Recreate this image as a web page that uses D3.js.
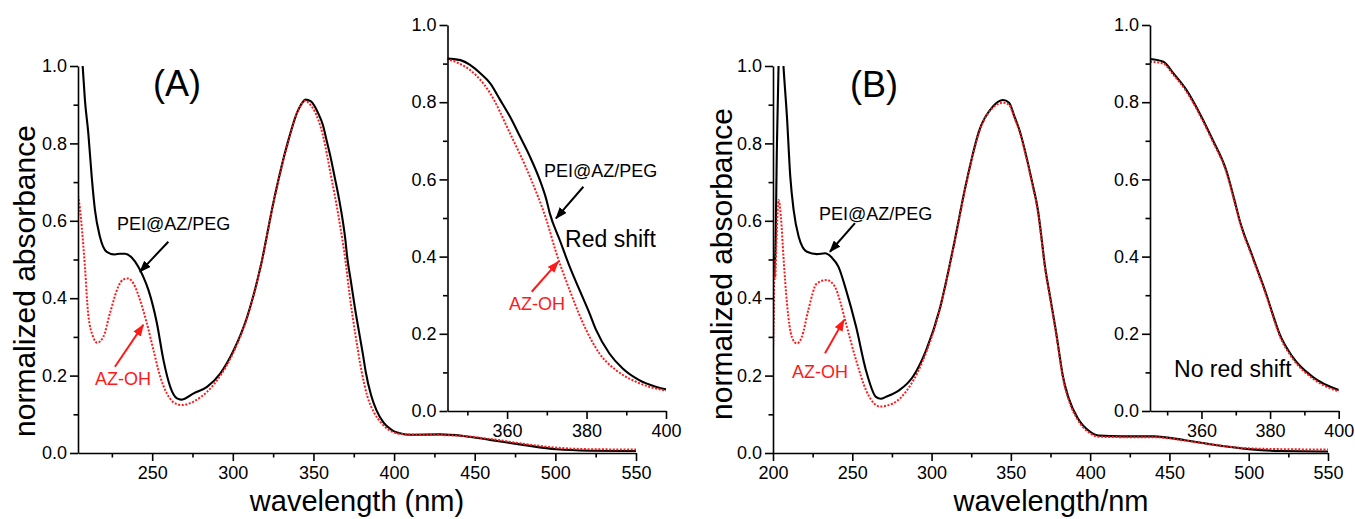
<!DOCTYPE html>
<html>
<head>
<meta charset="utf-8">
<script src="https://cdn.jsdelivr.net/npm/d3@7.9.0/dist/d3.min.js"></script>
<style>
  body { margin: 0; background: #fff; }
  svg { display: block; }
  text { font-family: "Liberation Sans", Arial, sans-serif; fill: #000; }
</style>
</head>
<body>
<div id="chart"></div>
<script>
// spectra: [wavelength nm, normalized absorbance]
let pegA = [
  [204, 1.2], [205, 1.14], [206, 1.06], [206.9, 1.0], [208.3, 0.912], [210.4, 0.826],
  [212.5, 0.714], [214.5, 0.628], [217.6, 0.559], [221.8, 0.52], [226.9, 0.513],
  [230, 0.515], [233.1, 0.515], [237.3, 0.505], [241.4, 0.481], [244.5, 0.455],
  [247.7, 0.421], [252.9, 0.336], [257, 0.24], [261.2, 0.171], [265.4, 0.141],
  [268, 0.138], [270.5, 0.141], [275.7, 0.154], [284, 0.171], [292.3, 0.206],
  [300.6, 0.266], [308.9, 0.352], [317.2, 0.481], [325.5, 0.654], [333.9, 0.8],
  [340.1, 0.882], [343, 0.905], [345.1, 0.913], [348.25, 0.909], [350.75, 0.896],
  [353.25, 0.875], [355.75, 0.849], [358.25, 0.806], [360.75, 0.762], [363.25, 0.711],
  [365.75, 0.659], [368.25, 0.598], [369.9, 0.547], [370.75, 0.512], [373.25, 0.443],
  [375.75, 0.374], [378.25, 0.313], [380.75, 0.253], [382.4, 0.21], [385.75, 0.149],
  [389.1, 0.11], [393.25, 0.08], [397.4, 0.063], [400, 0.056], [403.6, 0.051],
  [409.8, 0.047], [428.4, 0.048], [442.9, 0.044], [459.4, 0.034], [480, 0.021],
  [500.8, 0.0095], [521.4, 0.006], [550, 0.005]
];
let azohA = [
  [204, 0.665], [204.8, 0.645], [206.3, 0.585], [208.3, 0.481], [210.3, 0.36],
  [213.4, 0.3], [215.9, 0.285], [219.7, 0.3], [223.8, 0.361], [229, 0.43],
  [232, 0.448], [235.2, 0.451], [238.4, 0.438], [242.5, 0.395], [246.7, 0.335],
  [250.8, 0.266], [255, 0.197], [259.1, 0.154], [264.3, 0.128], [268.5, 0.124],
  [275.7, 0.133], [284, 0.158], [292.3, 0.2], [300.6, 0.262], [308.9, 0.35],
  [317.2, 0.48], [325.5, 0.652], [333.9, 0.798], [340.1, 0.882], [345, 0.91],
  [348, 0.9], [350.75, 0.883], [355.75, 0.823], [360.75, 0.719], [365.75, 0.607],
  [369.9, 0.495], [372.4, 0.409], [375.75, 0.313], [379.9, 0.21], [383.25, 0.149],
  [387.4, 0.106], [392.4, 0.076], [400, 0.053], [405, 0.049], [420, 0.047],
  [440, 0.045], [460, 0.036], [480, 0.024], [500, 0.014], [520, 0.01], [550, 0.009]
];
let pegB = [
  [200, 0.45], [201.4, 0.507], [202.5, 0.8], [203.5, 1.0], [205, 1.12], [206.6, 1.0],
  [208.8, 0.869], [210.9, 0.714], [213, 0.628], [216.2, 0.559], [221.4, 0.52],
  [227.7, 0.514], [232.9, 0.516], [237.1, 0.505], [241.3, 0.481], [246.1, 0.421],
  [252.4, 0.326], [258.6, 0.214], [264.9, 0.145], [268, 0.14], [271.2, 0.145],
  [279.9, 0.163], [288.2, 0.197], [296.6, 0.266], [305, 0.37], [313.4, 0.525],
  [321.8, 0.697], [330.2, 0.835], [338.6, 0.895], [345, 0.912], [348.9, 0.905],
  [351.8, 0.875], [355.6, 0.832], [359.5, 0.771], [363.3, 0.702], [367.2, 0.624],
  [369.6, 0.547], [371.1, 0.495], [374.9, 0.4], [378.8, 0.305], [380.7, 0.253],
  [382.7, 0.201], [386.5, 0.141], [392.3, 0.089], [399.6, 0.056], [405.7, 0.045],
  [420, 0.043], [440, 0.043], [460, 0.033], [480, 0.02], [500, 0.01], [520, 0.005],
  [550, 0.004]
];
let azohB = [
  [200, 0.27], [200.5, 0.35], [201, 0.5], [201.4, 0.45], [202, 0.52], [203.5, 0.654],
  [205, 0.61], [206.6, 0.507], [208.8, 0.387], [211.9, 0.3], [215, 0.283],
  [218.2, 0.3], [222.3, 0.37], [227.6, 0.438], [233.8, 0.447], [239, 0.43],
  [242.1, 0.395], [246, 0.335], [252.4, 0.24], [258.6, 0.163], [264.9, 0.124],
  [267.2, 0.12], [275.6, 0.128], [286, 0.171], [296.6, 0.26], [305, 0.368],
  [313.4, 0.522], [321.8, 0.694], [330.2, 0.832], [338.6, 0.892], [345, 0.905],
  [348.9, 0.9], [351.8, 0.871], [355.6, 0.828], [359.5, 0.767], [363.3, 0.698],
  [367.2, 0.62], [369.6, 0.543], [371.1, 0.491], [374.9, 0.396], [378.8, 0.301],
  [380.7, 0.249], [382.7, 0.197], [386.5, 0.137], [392.3, 0.085], [399.6, 0.052],
  [405.7, 0.042], [420, 0.041], [440, 0.041], [460, 0.032], [480, 0.02],
  [500, 0.012], [520, 0.01], [550, 0.009]
];

// tick values
let yMajor = [0, 0.2, 0.4, 0.6, 0.8, 1.0];
let yMinor = [0.1, 0.3, 0.5, 0.7, 0.9];
let xMajorA = [250, 300, 350, 400, 450, 500, 550];
let xMajorB = [200, 250, 300, 350, 400, 450, 500, 550];
let xMinorMain = [225, 275, 325, 375, 425, 475, 525];
let xMajorInset = [360, 380, 400];
let xMinorInset = [350, 370, 390];

let svg = d3.select("#chart")
    .append("svg")
    .attr("width", 1355)
    .attr("height", 519);

const RED = "#ff1a1a";

let defs = svg.append("defs");
["black", "red"].forEach(c => {
    defs.append("marker")
        .attr("id", "arrow-" + c)
        .attr("markerUnits", "userSpaceOnUse")
        .attr("markerWidth", 12).attr("markerHeight", 9)
        .attr("refX", 11).attr("refY", 4.5)
        .attr("orient", "auto")
        .append("path")
        .attr("d", "M0,0 L12,4.5 L0,9 z")
        .attr("fill", c === "red" ? RED : "#000");
});

// one set of axes + both curves
function drawPlot(p) {
    let x = d3.scaleLinear().domain(p.xDomain).range([p.left, p.right]);
    let y = d3.scaleLinear().domain([0, 1]).range([p.bottom, p.top]);
    let g = svg.append("g");

    defs.append("clipPath").attr("id", "clip-" + p.id)
        .append("rect")
        .attr("x", p.left).attr("y", p.top)
        .attr("width", p.right - p.left).attr("height", p.bottom - p.top);

    let line = d3.line()
        .defined(d => d[0] >= p.xDomain[0] - 6 && d[0] <= p.xDomain[1] + 6)
        .x(d => x(d[0])).y(d => y(d[1]))
        .curve(d3.curveMonotoneX);

    let curves = g.append("g").attr("clip-path", "url(#clip-" + p.id + ")");
    curves.append("path")
        .attr("d", line(p.peg.filter(line.defined())))
        .attr("fill", "none").attr("stroke", "#000").attr("stroke-width", 2.1)
        .attr("stroke-linejoin", "round");
    curves.append("path")
        .attr("d", line(p.azoh.filter(line.defined())))
        .attr("fill", "none").attr("stroke", RED).attr("stroke-width", 2)
        .attr("stroke-dasharray", "2,1.6");

    // minor ticks first, then major axis with labels
    let yMin = g.append("g").attr("transform", `translate(${p.left},0)`)
        .call(d3.axisLeft(y).tickValues(yMinor).tickSize(4.5).tickFormat(""));
    yMin.select(".domain").remove();
    g.append("g").attr("transform", `translate(${p.left},0)`)
        .call(d3.axisLeft(y).tickValues(yMajor).tickSize(8).tickSizeOuter(0)
            .tickPadding(3).tickFormat(d3.format(".1f")));

    let xMin = g.append("g").attr("transform", `translate(0,${p.bottom})`)
        .call(d3.axisBottom(x).tickValues(p.xMinor).tickSize(4.5).tickFormat(""));
    xMin.select(".domain").remove();
    g.append("g").attr("transform", `translate(0,${p.bottom})`)
        .call(d3.axisBottom(x).tickValues(p.xMajor).tickSize(8).tickSizeOuter(0)
            .tickPadding(5).tickFormat(d3.format("d")));

    g.selectAll(".tick line, .domain").attr("stroke", "#000").attr("stroke-width", 1.6);
    g.selectAll(".tick text").attr("font-size", 18).attr("font-family", null);

    return { x, y, g };
}

function addText(s, t, wx, wy, size, color) {
    s.g.append("text")
        .attr("x", s.x(wx)).attr("y", s.y(wy))
        .attr("font-size", size)
        .style("fill", color || "#000")
        .text(t);
}

function addArrow(s, from, to, color) {
    s.g.append("line")
        .attr("x1", s.x(from[0])).attr("y1", s.y(from[1]))
        .attr("x2", s.x(to[0])).attr("y2", s.y(to[1]))
        .attr("stroke", color === "red" ? RED : "#000")
        .attr("stroke-width", 2)
        .attr("marker-end", "url(#arrow-" + color + ")");
}

// ---- panel A ----
let mainA = drawPlot({ id: "a", xDomain: [204, 550], left: 78, right: 636, top: 66, bottom: 453,
    peg: pegA, azoh: azohA, xMajor: xMajorA, xMinor: xMinorMain });
addText(mainA, "(A)", 250.5, 0.922, 36);
addText(mainA, "PEI@AZ/PEG", 228.2, 0.576, 18);
addArrow(mainA, [260, 0.546], [242.4, 0.468], "black");
addText(mainA, "AZ-OH", 214.5, 0.176, 18, RED);
addArrow(mainA, [226.9, 0.223], [244.5, 0.331], "red");

let insetA = drawPlot({ id: "ai", xDomain: [345, 400], left: 447.5, right: 666, top: 25, bottom: 411,
    peg: pegA, azoh: azohA, xMajor: xMajorInset, xMinor: xMinorInset });
addText(insetA, "PEI@AZ/PEG", 369.3, 0.606, 18);
addArrow(insetA, [379.2, 0.581], [372.3, 0.499], "black");
addText(insetA, "Red shift", 374.6, 0.425, 23);
addText(insetA, "AZ-OH", 360.5, 0.262, 18, RED);
addArrow(insetA, [366.2, 0.309], [372.9, 0.387], "red");

// ---- panel B ----
let mainB = drawPlot({ id: "b", xDomain: [200, 550], left: 773, right: 1328, top: 66, bottom: 453,
    peg: pegB, azoh: azohB, xMajor: xMajorB, xMinor: xMinorMain });
addText(mainB, "(B)", 248.6, 0.92, 36);
addText(mainB, "PEI@AZ/PEG", 229, 0.602, 18);
addArrow(mainB, [251.7, 0.594], [235.9, 0.52], "black");
addText(mainB, "AZ-OH", 212, 0.194, 18, RED);
addArrow(mainB, [232.8, 0.258], [244.8, 0.344], "red");

let insetB = drawPlot({ id: "bi", xDomain: [345, 400], left: 1150, right: 1338.7, top: 25, bottom: 411,
    peg: pegB, azoh: azohB, xMajor: xMajorInset, xMinor: xMinorInset });
addText(insetB, "No red shift", 352, 0.088, 23);

// axis titles
svg.append("text").attr("transform", "translate(35,281) rotate(-90)")
    .attr("text-anchor", "middle").attr("font-size", 30).text("normalized absorbance");
svg.append("text").attr("transform", "translate(732,264) rotate(-90)")
    .attr("text-anchor", "middle").attr("font-size", 30).text("normalized absorbance");
svg.append("text").attr("x", 357).attr("y", 511)
    .attr("text-anchor", "middle").attr("font-size", 29).text("wavelength (nm)");
svg.append("text").attr("x", 1051).attr("y", 511)
    .attr("text-anchor", "middle").attr("font-size", 29).text("wavelength/nm");
</script>
</body>
</html>
